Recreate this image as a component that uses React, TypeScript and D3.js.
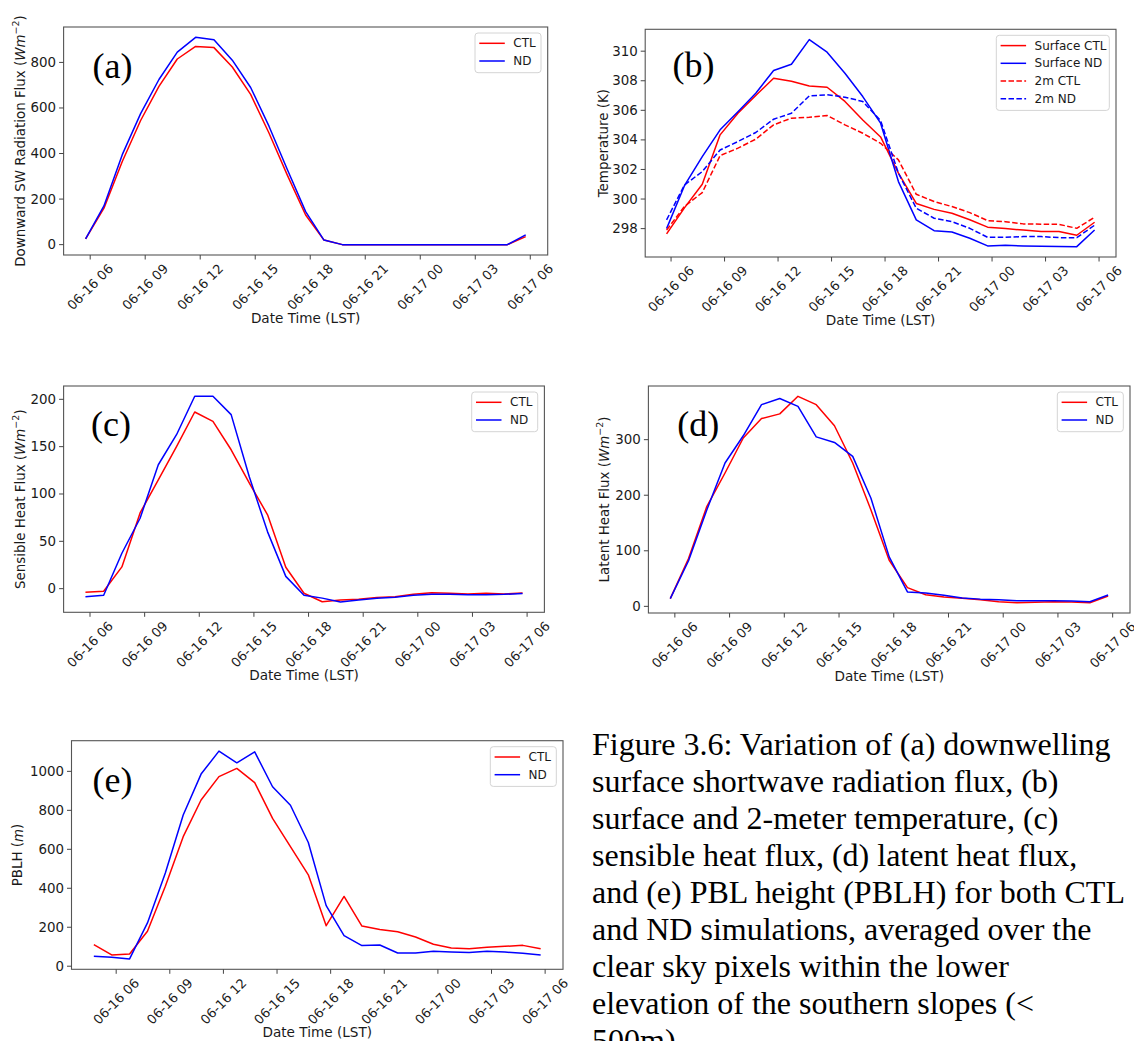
import React, { useEffect } from "react";
import * as d3 from "d3";

// hours since 06-16 00:00 LST; outputs are hourly at hh:45
const hoursMain = d3.range(25).map((i) => 5.75 + i);
const hoursPblh = d3.range(26).map((i) => 4.75 + i);

const tickHours = [6, 9, 12, 15, 18, 21, 24, 27, 30];
const tickLabels = ["06-16 06", "06-16 09", "06-16 12", "06-16 15", "06-16 18", "06-16 21", "06-17 00", "06-17 03", "06-17 06"];

// (a) downward SW radiation
const swCTL = [25, 160, 365, 545, 695, 815, 870, 865, 780, 660, 490, 305, 130, 20, 0, 0, 0, 0, 0, 0, 0, 0, 0, 0, 35];
const swND = [25, 170, 395, 575, 725, 845, 910, 900, 810, 690, 520, 330, 145, 20, 0, 0, 0, 0, 0, 0, 0, 0, 0, 0, 43];

// (b) temperature
const tsfcCTL = [297.64, 299.4, 301.0, 304.34, 305.8, 307.0, 308.17, 307.97, 307.65, 307.56, 306.6, 305.35, 304.2, 301.75, 299.7, 299.3, 299.04, 298.6, 298.1, 298.0, 297.9, 297.8, 297.8, 297.55, 298.43];
const tsfcND = [298.0, 300.9, 302.87, 304.68, 305.9, 307.16, 308.69, 309.12, 310.78, 309.93, 308.51, 306.93, 305.13, 301.18, 298.59, 297.86, 297.77, 297.35, 296.83, 296.87, 296.83, 296.8, 296.79, 296.78, 297.91];
const t2CTL = [297.9, 299.5, 300.44, 302.94, 303.44, 304.05, 305.02, 305.47, 305.53, 305.65, 305.02, 304.45, 303.77, 302.65, 300.32, 299.83, 299.49, 299.08, 298.54, 298.47, 298.32, 298.3, 298.29, 298.02, 298.77];
const t2ND = [298.59, 300.95, 301.86, 303.32, 303.89, 304.5, 305.4, 305.8, 306.98, 307.05, 306.89, 306.6, 305.31, 301.75, 299.38, 298.7, 298.47, 298.02, 297.41, 297.41, 297.46, 297.46, 297.39, 297.39, 298.23];

// (c) sensible heat flux
const shCTL = [-3.9, -2.8, 23, 80, 115, 150, 186.6, 176.7, 146.7, 111.5, 78, 22.6, -4.9, -13.8, -12, -11.3, -9.2, -8.5, -6, -4.2, -4.9, -5.6, -4.9, -5.6, -4.6];
const shND = [-8.5, -7, 37.4, 74.4, 130.9, 162.6, 203.2, 203.2, 183.8, 118, 60, 13, -7, -10, -14.1, -12, -10, -9, -7, -6, -6, -6.5, -6.5, -6, -5];

// (d) latent heat flux
const lhCTL = [13.9, 86, 179.5, 240, 303, 338, 346.4, 378, 363, 325, 258, 173.5, 83, 33.7, 21, 17, 14.5, 12, 8.4, 6.6, 7.2, 8.4, 7.8, 6.6, 18.7];
const lhND = [13.9, 82, 173.5, 258, 307, 363, 374, 360, 305, 295, 270, 194.6, 89, 26, 24, 20, 15, 13, 12, 10, 10, 10, 9.6, 8.4, 20.5];

// (e) PBL height
const pblhCTL = [111, 58, 63, 179, 410, 665, 853, 973, 1015, 942, 759, 614, 469, 208, 358, 206, 188, 177, 150, 113, 94, 90, 97, 102, 107, 90];
const pblhND = [51, 46, 37.5, 222, 478, 776, 986, 1104, 1044, 1100, 921, 826, 635, 311, 157, 106, 109, 68, 68, 77, 73, 70, 77, 73, 66, 58];

const captionLines = [
  "Figure 3.6: Variation of (a) downwelling",
  "surface shortwave radiation flux, (b)",
  "surface and 2-meter temperature, (c)",
  "sensible heat flux, (d) latent heat flux,",
  "and (e) PBL height (PBLH) for both CTL",
  "and ND simulations, averaged over the",
  "clear sky pixels within the lower",
  "elevation of the southern slopes (<",
  "500m).",
];

const RED = "#ff0000";
const BLUE = "#0000ff";
const INK = "#1a1a1a";
const SANS = "'DejaVu Sans', sans-serif";
const SERIF = "'Liberation Serif', 'Times New Roman', serif";

type Series = { name: string; values: number[]; color: string; dashed?: boolean };
type PanelDef = {
  tag: string;
  hours: number[];
  series: Series[];
  yTicks: number[];
  yLabel: string;
  unit?: "flux" | "m";
  box: { left: number; top: number; right: number; bottom: number };
  yLabelOffset: number;
  tagDx: number;
  tagDy: number;
  legendWidth: number;
};

const panels: PanelDef[] = [
  {
    tag: "(a)", hours: hoursMain,
    series: [{ name: "CTL", values: swCTL, color: RED }, { name: "ND", values: swND, color: BLUE }],
    yTicks: [0, 200, 400, 600, 800], yLabel: "Downward SW Radiation Flux", unit: "flux",
    box: { left: 63.6, top: 27, right: 547.7, bottom: 255 }, yLabelOffset: 43.6, tagDx: 29, tagDy: 51, legendWidth: 66,
  },
  {
    tag: "(b)", hours: hoursMain,
    series: [
      { name: "Surface CTL", values: tsfcCTL, color: RED },
      { name: "Surface ND", values: tsfcND, color: BLUE },
      { name: "2m CTL", values: t2CTL, color: RED, dashed: true },
      { name: "2m ND", values: t2ND, color: BLUE, dashed: true },
    ],
    yTicks: [298, 300, 302, 304, 306, 308, 310], yLabel: "Temperature (K)",
    box: { left: 645.2, top: 29.3, right: 1116, bottom: 257 }, yLabelOffset: 42.2, tagDx: 27.3, tagDy: 48, legendWidth: 113,
  },
  {
    tag: "(c)", hours: hoursMain,
    series: [{ name: "CTL", values: shCTL, color: RED }, { name: "ND", values: shND, color: BLUE }],
    yTicks: [0, 50, 100, 150, 200], yLabel: "Sensible Heat Flux", unit: "flux",
    box: { left: 63.6, top: 386, right: 544.4, bottom: 612.3 }, yLabelOffset: 43.6, tagDx: 27.4, tagDy: 49.6, legendWidth: 66,
  },
  {
    tag: "(d)", hours: hoursMain,
    series: [{ name: "CTL", values: lhCTL, color: RED }, { name: "ND", values: lhND, color: BLUE }],
    yTicks: [0, 100, 200, 300], yLabel: "Latent Heat Flux", unit: "flux",
    box: { left: 648.4, top: 386, right: 1130, bottom: 613 }, yLabelOffset: 44.4, tagDx: 28.8, tagDy: 49.6, legendWidth: 66,
  },
  {
    tag: "(e)", hours: hoursPblh,
    series: [{ name: "CTL", values: pblhCTL, color: RED }, { name: "ND", values: pblhND, color: BLUE }],
    yTicks: [0, 200, 400, 600, 800, 1000], yLabel: "PBLH", unit: "m",
    box: { left: 71.5, top: 740.7, right: 563, bottom: 969.3 }, yLabelOffset: 53.7, tagDx: 21, tagDy: 51, legendWidth: 66,
  },
];

// matplotlib-style 5% autoscale margin
const padded = (ext: [number, number]): [number, number] => {
  const d = (ext[1] - ext[0]) * 0.05;
  return [ext[0] - d, ext[1] + d];
};

const Panel = ({ p }: { p: PanelDef }) => {
  const { left, top, right, bottom } = p.box;
  const x = d3.scaleLinear().domain(padded(d3.extent(p.hours) as [number, number])).range([left, right]);
  const allValues = p.series.flatMap((s) => s.values);
  const y = d3.scaleLinear().domain(padded(d3.extent(allValues) as [number, number])).range([bottom, top]);
  const line = d3.line<number>().x((_, i) => x(p.hours[i])).y((d) => y(d));

  const lx = left - p.yLabelOffset;
  const ly = (top + bottom) / 2;
  const legRight = right - 6.7;
  const legTop = top + 6;
  const rowGap = 17.7;
  const legH = 20 + (p.series.length - 1) * rowGap + 2;

  return (
    <g>
      {p.series.map((s) => (
        <path key={s.name} d={line(s.values) || ""} fill="none" stroke={s.color} strokeWidth={1.5}
          strokeDasharray={s.dashed ? "5.5 2.4" : undefined} strokeLinejoin="round" />
      ))}
      <rect x={left} y={top} width={right - left} height={bottom - top} fill="none" stroke="#555" strokeWidth={1.1} />

      {/* x axis */}
      {tickHours.map((h, i) => (
        <g key={h}>
          <line x1={x(h)} x2={x(h)} y1={bottom} y2={bottom + 4.5} stroke="#444" strokeWidth={1} />
          <text transform={`translate(${x(h)},${bottom + 32}) rotate(-45)`} textAnchor="middle"
            dominantBaseline="central" fontSize={13} fill={INK}>{tickLabels[i]}</text>
        </g>
      ))}
      <text x={(left + right) / 2} y={bottom + 63} textAnchor="middle" dominantBaseline="central" fontSize={13.6} fill={INK}>
        Date Time (LST)
      </text>

      {/* y axis */}
      {p.yTicks.map((t) => (
        <g key={t}>
          <line x1={left - 4.5} x2={left} y1={y(t)} y2={y(t)} stroke="#444" strokeWidth={1} />
          <text x={left - 7.5} y={y(t)} textAnchor="end" dominantBaseline="central" fontSize={13.4} fill={INK}>{t}</text>
        </g>
      ))}
      <text transform={`translate(${lx},${ly}) rotate(-90)`} textAnchor="middle" dominantBaseline="central" fontSize={13.4} fill={INK}>
        {p.unit === "flux" ? (
          <>
            {p.yLabel} (<tspan fontStyle="italic">Wm</tspan>
            <tspan dy={-5} fontSize={9.5}>−2</tspan>
            <tspan dy={5}>)</tspan>
          </>
        ) : p.unit === "m" ? (
          <>
            {p.yLabel} (<tspan fontStyle="italic">m</tspan>)
          </>
        ) : (
          p.yLabel
        )}
      </text>

      {/* panel tag */}
      <text x={left + p.tagDx} y={top + p.tagDy} fontFamily={SERIF} fontSize={36} fill="#000">{p.tag}</text>

      {/* legend */}
      <rect x={legRight - p.legendWidth} y={legTop} width={p.legendWidth} height={legH} rx={3}
        fill="#fff" fillOpacity={0.8} stroke="#d4d4d4" strokeWidth={1} />
      {p.series.map((s, i) => {
        const ry = legTop + 10.3 + i * rowGap;
        const x0 = legRight - p.legendWidth + 4.3;
        return (
          <g key={s.name}>
            <line x1={x0} x2={x0 + 25.5} y1={ry} y2={ry} stroke={s.color} strokeWidth={1.5}
              strokeDasharray={s.dashed ? "5.5 2.4" : undefined} />
            <text x={x0 + 34} y={ry} dominantBaseline="central" fontSize={12} fill={INK}>{s.name}</text>
          </g>
        );
      })}
    </g>
  );
};

export default function App() {
  useEffect(() => {
    document.body.style.margin = "0";
  }, []);

  return (
    <svg width={1134} height={1041} viewBox="0 0 1134 1041" style={{ display: "block", background: "#fff" }} fontFamily={SANS}>
      <rect width={1134} height={1041} fill="#fff" />
      {panels.map((p) => (
        <Panel key={p.tag} p={p} />
      ))}
      <g fontFamily={SERIF} fontSize={32} fill="#000">
        {captionLines.map((l, i) => (
          <text key={i} x={592} y={755 + i * 37}>{l}</text>
        ))}
      </g>
    </svg>
  );
}
